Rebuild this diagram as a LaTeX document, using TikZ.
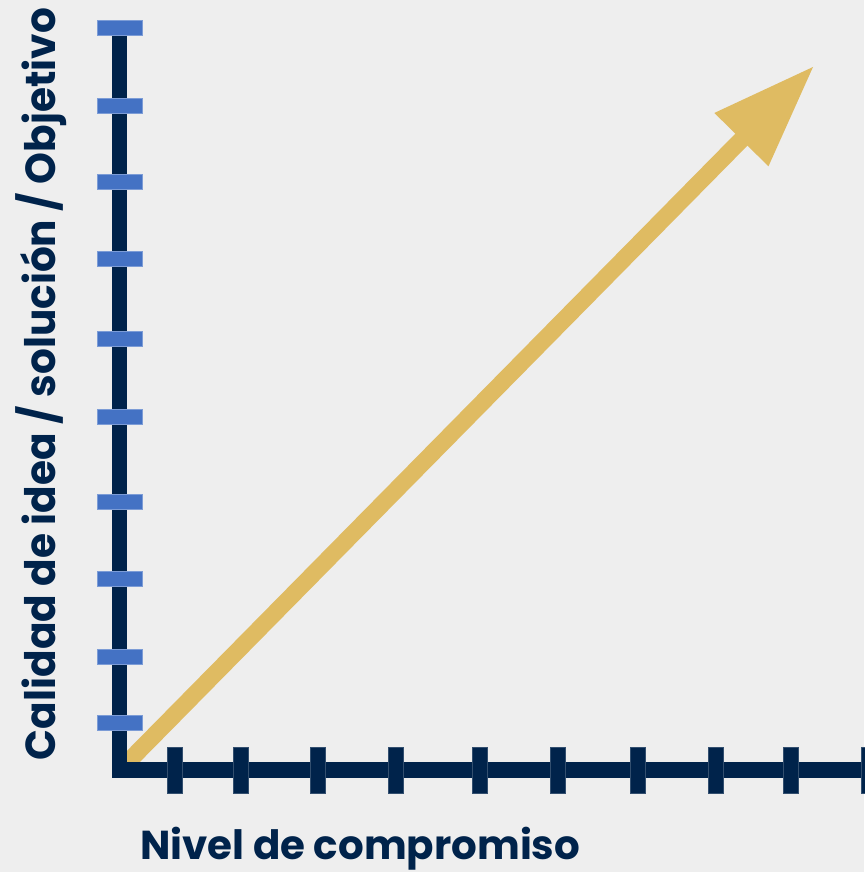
\documentclass[tikz,border=0pt]{standalone}
\usepackage{fontspec}
\usepackage{graphicx}
\setmainfont{Poppins}
\usetikzlibrary{calc}
\definecolor{bg}{HTML}{EEEEEE}
\definecolor{navy}{HTML}{00234B}
\definecolor{tickblue}{HTML}{4472C4}
\definecolor{gold}{HTML}{DFBB62}
\tikzset{
  ytick/.style={fill=tickblue, draw=tickblue!70!white, line width=0.6pt},
  xtick/.style={fill=navy, draw=navy!80!white, line width=0.6pt},
  axislabel/.style={text=navy, font=\fontsize{42}{50}\selectfont\bfseries, inner sep=0pt}
}
\begin{document}
\begin{tikzpicture}[x=1pt,y=-1pt]
\fill[bg] (0,0) rectangle (864,872);
\useasboundingbox (0,0) rectangle (864,872);
% arrow
\coordinate (st) at (120,770);
\coordinate (tip) at (813,67);
\coordinate (bk) at ($(tip)!102pt!(st)$);
\coordinate (c1) at ($(bk)!38pt!90:(tip)$);
\coordinate (c2) at ($(bk)!38pt!-90:(tip)$);
\draw[gold, line width=17pt] (st) -- ($(bk)!1pt!(tip)$);
\fill[gold] (tip) -- (c1) -- (c2) -- cycle;
% axes
\fill[navy] (112,28) rectangle (127,778);
\fill[navy] (112,762) rectangle (864,778);
% y ticks
\foreach \y in {28,106,182,259,339,417,502,579,657,723}
  \path[ytick] (97,\y-7.5) rectangle (142,\y+7.5);
% x ticks
\foreach \x in {174.5,240.5,318,396,480,558,638,716,791,868.5}
  \path[xtick] (\x-7.5,747) rectangle (\x+7.5,793);
% labels
\node[axislabel, rotate=90, anchor=base] (ylab) at (55,384) {\resizebox{752pt}{\height}{Calidad de idea / solución / Objetivo}};
\node[axislabel, anchor=base west] (xlab) at (140,859) {\resizebox{440pt}{!}{\fontsize{40}{48}\selectfont Nivel de compromiso}};
\end{tikzpicture}
\end{document}
